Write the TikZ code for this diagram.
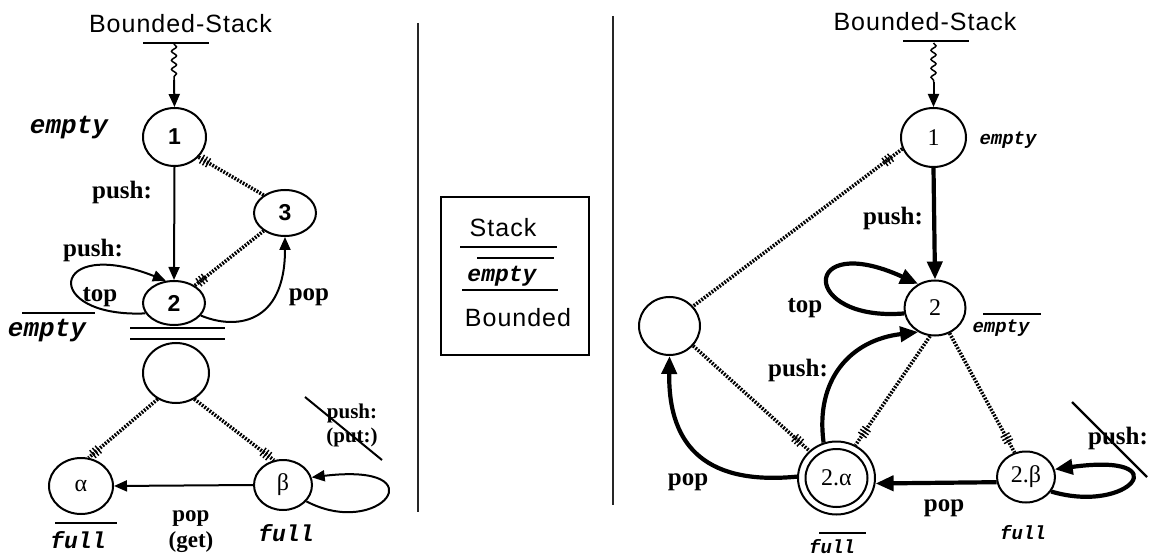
\documentclass[tikz,border=0pt]{standalone}
\usepackage{fontspec}
\setmainfont{Liberation Serif}
\newfontfamily\hv[LetterSpace=4]{Liberation Sans}
\newfontfamily\hvb{Liberation Sans}
\newfontfamily\cour{Liberation Mono}
\usetikzlibrary{shapes.geometric,arrows.meta,decorations.pathmorphing,decorations.markings}
\begin{document}
\begin{tikzpicture}[x=1pt,y=-1pt,
  st/.style={draw, ellipse, line width=2pt, inner sep=0pt, font=\hvb\bfseries\fontsize{23}{25}\selectfont},
  stR/.style={draw, ellipse, line width=2pt, inner sep=0pt, font=\fontsize{24}{26}\selectfont},
  lbl/.style={font=\bfseries\fontsize{25}{27}\selectfont, inner sep=0pt},
  lbls/.style={font=\bfseries\fontsize{23}{25}\selectfont, inner sep=0pt},
  lblx/.style={font=\bfseries\fontsize{21}{23}\selectfont, inner sep=0pt},
  tt/.style={font=\cour\bfseries\itshape\fontsize{26}{28}\selectfont, inner sep=0pt},
  ttm/.style={font=\cour\bfseries\itshape\fontsize{23}{25}\selectfont, inner sep=0pt},
  tts/.style={font=\cour\bfseries\itshape\fontsize{19}{21}\selectfont, inner sep=0pt},
  ttitle/.style={font=\hv\fontsize{25}{27}\selectfont, inner sep=0pt},
  arr/.style={line width=2pt, -{Triangle[length=13pt,width=11pt]}},
  arrR/.style={line width=4.2pt, -{Triangle[length=18pt,width=15pt]}},
  rel/.style={line width=3.6pt, dash pattern=on 1.8pt off 1.4pt},
  hatch/.style={postaction={decorate,decoration={markings,mark=at position #1 with {\draw[line width=1.4pt,solid] (-3.5,-5)--(-3.5,5) (0,-5)--(0,5) (3.5,-5)--(3.5,5);}}}},
  bar/.style={line width=2.2pt},
  thin/.style={line width=1.2pt},
  wavy/.style={line width=1.5pt, decorate, decoration={snake, amplitude=2.5pt, segment length=9pt}},
  divider/.style={line width=1.7pt, black!85}
]
\useasboundingbox (0,0) rectangle (1149,556);

% ---------------- left panel ----------------
\node[ttitle] (tL) at (180.5,24) {Bounded-Stack};
\coordinate (barL1) at (143,43); \coordinate (barL2) at (209,43);
\draw[bar] (barL1) -- (barL2);
\coordinate (barLm) at (174,44); \coordinate (wavL) at (174,80);

\node[st, minimum width=63pt, minimum height=58pt] (L1) at (174.5,137) {1};
\node[st, minimum width=62pt, minimum height=46pt] (L3) at (285,213) {3};
\node[st, minimum width=62pt, minimum height=44pt] (L2) at (174,303) {2};
\node[st, minimum width=66pt, minimum height=60pt] (L4) at (176,373) {};
\node[st, minimum width=64pt, minimum height=56pt, font=\fontsize{24}{26}\selectfont] (La) at (81,486) {α};
\node[st, minimum width=58pt, minimum height=50pt, font=\fontsize{24}{26}\selectfont] (Lb) at (283,485) {β};

\draw[wavy] (barLm) -- (wavL);
\draw[arr] (wavL) -- (L1.north);

\node[tt] (Lempty1) at (69,128) {empty};
\node[lbl] (Lpush1) at (122,192) {push:};
\node[lbl] (Lpush2) at (93,250) {push:};
\node[lbl] (Ltop) at (100,297) {top};
\node[lbl] (Lpop1) at (309,297) {pop};
\node[tt] (Lempty2) at (47,331) {empty};
\coordinate (olA1) at (22,313); \coordinate (olA2) at (95,313);
\draw[thin] (olA1) -- (olA2);
\coordinate (dl1a) at (130,328); \coordinate (dl1b) at (225,328);
\coordinate (dl2a) at (130,339); \coordinate (dl2b) at (225,339);
\draw[bar] (dl1a) -- (dl1b);
\draw[bar] (dl2a) -- (dl2b);
\node[ttm] (Lfull1) at (78,540) {full};
\coordinate (olB1) at (55,523); \coordinate (olB2) at (117,523);
\draw[thin] (olB1) -- (olB2);
\node[lbls] (Lpop2) at (191,519) {pop};
\node[lbls] (Lget) at (191,542) {(get)};
\node[ttm] (Lfull2) at (286,533) {full};
\node[lblx] (Lpush3) at (352,413) {push:};
\node[lblx] (Lput) at (352,437) {(put:)};
\coordinate (sL1) at (305,397); \coordinate (sL2) at (382,460);
\draw[line width=2pt] (sL1) -- (sL2);

\draw[arr] (L1.south) -- (L2.north);
\draw[rel, hatch=0.1] (L1.-40) -- (L3.140);
\draw[rel, hatch=0.1] (L2.40) -- (L3.220);
\draw[arr] (L2.-25) .. controls (235,330) and (285,325) .. (L3.south);
\draw[arr] (L2.200) .. controls (40,318) and (50,235) .. (L2.110);
\draw[rel, hatch=0.9] (L4.-125) -- (La.75);
\draw[rel, hatch=0.9] (L4.-55) -- (Lb.110);
\draw[arr] (Lb.west) -- (La.east);
\draw[arr] (Lb.-35) .. controls (380,540) and (440,462) .. (Lb.15);

% ---------------- dividers and middle box ----------------
\coordinate (dv1a) at (418,23); \coordinate (dv1b) at (418,512);
\coordinate (dv2a) at (613,16); \coordinate (dv2b) at (613,505);
\draw[divider] (dv1a) -- (dv1b);
\draw[divider] (dv2a) -- (dv2b);

\node[draw, line width=2pt, minimum width=148pt, minimum height=158pt, inner sep=0pt] (box) at (515,276) {};
\node[ttitle] (mStack) at (503,228) {Stack};
\node[ttm] (mEmpty) at (502,276) {empty};
\node[ttitle] (mBounded) at (518,318) {Bounded};
\coordinate (m1a) at (460,247); \coordinate (m1b) at (557,247);
\coordinate (m2a) at (477,258) ; \coordinate (m2b) at (554,258);
\coordinate (m3a) at (462,290); \coordinate (m3b) at (558,290);
\draw[bar] (m1a) -- (m1b);
\draw[thin] (m2a) -- (m2b);
\draw[bar] (m3a) -- (m3b);

% ---------------- right panel ----------------
\node[ttitle] (tR) at (925,22) {Bounded-Stack};
\coordinate (barR1) at (903,41); \coordinate (barR2) at (969,41);
\draw[bar] (barR1) -- (barR2);
\coordinate (barRm) at (933.5,43); \coordinate (wavR) at (933.5,82);

\node[stR, minimum width=65pt, minimum height=59pt] (R1) at (933.5,137.5) {1};
\node[stR, minimum width=61pt, minimum height=55pt] (R2) at (935,308) {2};
\node[stR, minimum width=61pt, minimum height=58pt] (R0) at (669.5,326) {};
\node[stR, minimum width=77pt, minimum height=73pt] (Ra) at (836.5,478) {};
\node[stR, minimum width=62pt, minimum height=58pt] (Rai) at (836.5,478) {2.α};
\node[stR, minimum width=58pt, minimum height=51pt] (Rb) at (1026,477) {2.β};

\draw[wavy] (barRm) -- (wavR);
\draw[arr] (wavR) -- (R1.north);

\node[tts] (Rempty1) at (1008,140) {empty};
\node[lbl] (Rpush1) at (893,218) {push:};
\node[tts] (Rempty2) at (1001,328) {empty};
\coordinate (olC1) at (983,314); \coordinate (olC2) at (1041,314);
\draw[thin] (olC1) -- (olC2);
\node[lbl] (Rtop) at (805,308) {top};
\node[lbl] (Rpush2) at (798,370) {push:};
\node[lbl] (Rpop2) at (688,482) {pop};
\node[lbl] (Rpop1) at (944,508) {pop};
\node[tts] (Rfull1) at (832,547) {full};
\coordinate (olD1) at (819,533); \coordinate (olD2) at (866,533);
\draw[thin] (olD1) -- (olD2);
\node[tts] (Rfull2) at (1023,533) {full};
\node[lbl] (Rpush3) at (1118,438) {push:};
\coordinate (sR1) at (1072,402); \coordinate (sR2) at (1147,477);
\draw[line width=2.2pt] (sR1) -- (sR2);

\draw[arrR] (R1.south) -- (R2.north);
\draw[rel, hatch=0.07] (R1.200) -- (R0.40);
\draw[rel, hatch=0.9] (R0.-40) -- (Ra.135);
\draw[rel, hatch=0.88] (R2.-100) -- (Ra.60);
\draw[rel, hatch=0.88] (R2.-60) -- (Rb.115);
\draw[arrR] (Rb.190) -- (Ra.-8);
\draw[arrR] (Ra.110) .. controls (815,380) and (850,340) .. (R2.235);
\draw[arrR] (Ra.178) .. controls (710,485) and (668,450) .. (R0.south);
\draw[arrR] (R2.190) .. controls (800,322) and (800,230) .. (R2.125);
\draw[arrR] (Rb.-30) .. controls (1130,515) and (1180,452) .. (Rb.15);
\end{tikzpicture}
\end{document}
